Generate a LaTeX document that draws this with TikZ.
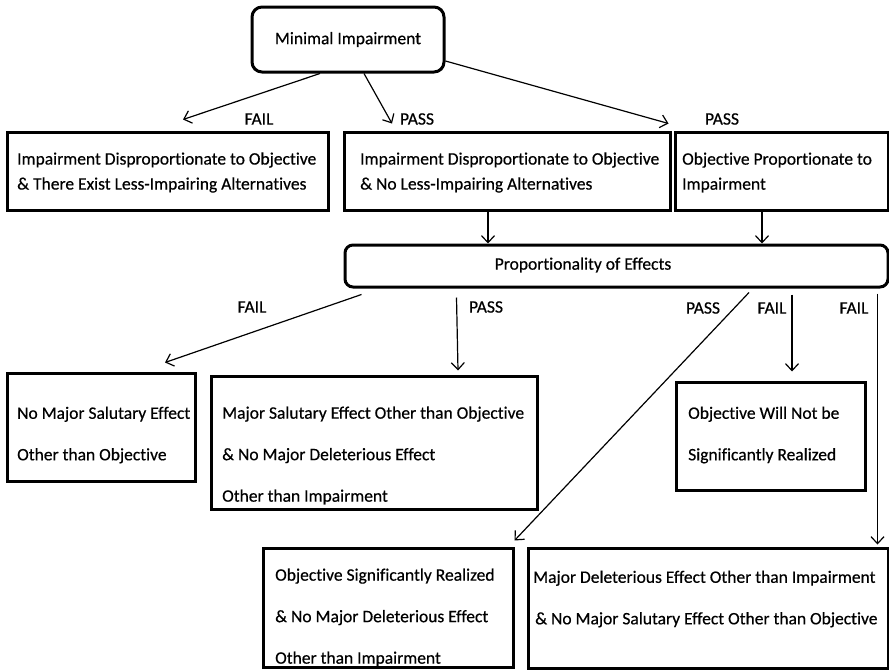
\documentclass[tikz,border=0pt]{standalone}
\usepackage{fontspec}
\setmainfont{Carlito}[FakeBold=0.5, Ligatures=NoCommon]
\usetikzlibrary{arrows.meta}
\begin{document}
\begin{tikzpicture}[x=1pt,y=-1pt,
  box/.style={draw, line width=3pt, inner sep=0pt},
  rbox/.style={box, rounded corners=10pt},
  txt/.style={anchor=west, align=left, inner sep=0pt, font=\fontsize{17.5}{25}\selectfont},
  wtxt/.style={txt, font=\fontsize{17.5}{41.5}\selectfont},
  lab/.style={inner sep=0pt, font=\fontsize{17.5}{20}\selectfont},
  arr/.style={line width=1.2pt, -{Straight Barb[length=7pt,width=13pt]}}]
\useasboundingbox (0,0) rectangle (889,670);
\node[rbox, minimum width=192pt, minimum height=65pt, font=\fontsize{17.5}{20}\selectfont] (mi) at (348,39.5){Minimal Impairment};
\node[box, minimum width=321pt, minimum height=78pt] (boxA) at (167.5,171){};
\node[txt] (tA) at (17,172.5){Impairment Disproportionate to Objective\\\& There Exist Less-Impairing Alternatives};
\node[box, minimum width=326pt, minimum height=78pt] (boxB) at (507,171){};
\node[txt] (tB) at (360,172.5){Impairment Disproportionate to Objective\\\& No Less-Impairing Alternatives};
\node[box, minimum width=213pt, minimum height=78pt] (boxC) at (781.5,171){};
\node[txt] (tC) at (682,172.5){Objective Proportionate to\\Impairment};
\node[lab] (fail1) at (259,119){FAIL};
\node[lab] (pass1) at (417,119){PASS};
\node[lab] (pass2) at (722,119){PASS};
\draw[arr]([xshift=-28pt]mi.south) -- ([xshift=15.5pt,yshift=11pt]boxA.north);
\draw[arr]([xshift=16pt]mi.south) -- ([xshift=-115pt,yshift=7pt]boxB.north);
\draw[arr]([yshift=-21.5pt]mi.east) -- ([xshift=-5pt,yshift=7pt]boxC.north west);
\node[rbox, minimum width=543pt, minimum height=42pt, rounded corners=8pt] (prop) at (616.5,266){};
\node[lab] (tProp) at (583,265){Proportionality of Effects};
\draw[arr]([xshift=-19pt]boxB.south) -- ([xshift=-19pt]boxB.south |- prop.north);
\draw[arr]([xshift=-19.5pt]boxC.south) -- ([xshift=-19.5pt]boxC.south |- prop.north);
\node[box, minimum width=188pt, minimum height=108pt] (boxD) at (101,427){};
\node[wtxt] (tD) at (17,435){No Major Salutary Effect\\Other than Objective};
\node[box, minimum width=326pt, minimum height=133pt] (boxF) at (374,442.5){};
\node[wtxt] (tF) at (222,455.5){Major Salutary Effect Other than Objective\\\& No Major Deleterious Effect\\Other than Impairment};
\node[box, minimum width=189pt, minimum height=108pt] (boxE) at (770.5,436){};
\node[wtxt] (tE) at (688,435){Objective Will Not be\\Significantly Realized};
\node[box, minimum width=250pt, minimum height=119pt] (boxG) at (388,607.5){};
\node[wtxt] (tG) at (275,617.5){Objective Significantly Realized\\\& No Major Deleterious Effect\\Other than Impairment};
\node[box, minimum width=360pt, minimum height=120pt] (boxH) at (708,608){};
\node[wtxt] (tH) at (533,599){Major Deleterious Effect Other than Impairment\\\hspace{2pt}\& No Major Salutary Effect Other than Objective};
\node[lab] (fail2) at (252,307){FAIL};
\node[lab] (pass3) at (486,307){PASS};
\node[lab] (pass4) at (703,308){PASS};
\node[lab] (fail3) at (772,308){FAIL};
\node[lab] (fail4) at (854,308){FAIL};
\draw[arr]([xshift=18pt,yshift=-6pt]prop.south west) -- ([xshift=64pt,yshift=9pt]boxD.north);
\draw[arr]([xshift=113pt,yshift=-9pt]prop.south west) -- ([xshift=84pt,yshift=4pt]boxF.north);
\draw[arr]([xshift=132.5pt,yshift=-4pt]prop.south) -- ([yshift=6pt]boxG.north east);
\draw[arr]([xshift=175.5pt,yshift=-6pt]prop.south) -- ([xshift=21.5pt,yshift=9pt]boxE.north);
\draw[arr]([xshift=-12pt,yshift=-5pt]prop.south east) -- ([xshift=-12pt,yshift=2pt]boxH.north east);
\end{tikzpicture}
\end{document}
